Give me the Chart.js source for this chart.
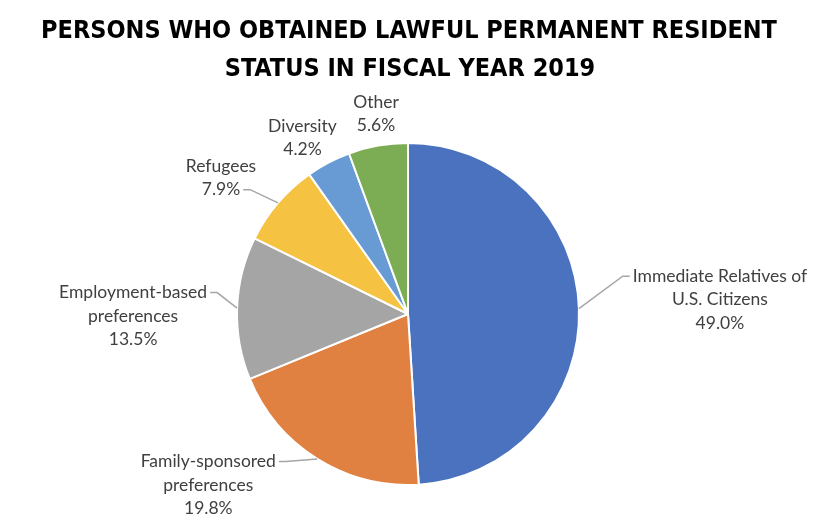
<!DOCTYPE html>
<html>
<head>
<meta charset="utf-8">
<script src="https://cdn.jsdelivr.net/npm/chart.js@4"></script>
<style>
  body { margin: 0; background: #fff; }
  #wrap { width: 828px; height: 530px; position: relative; }
</style>
</head>
<body>
<div id="wrap"><canvas id="chart"></canvas></div>
<script>
const titleLines = ['PERSONS WHO OBTAINED LAWFUL PERMANENT RESIDENT', 'STATUS IN FISCAL YEAR 2019'];
const categories = ['Immediate Relatives of U.S. Citizens', 'Family-sponsored preferences', 'Employment-based preferences', 'Refugees', 'Diversity', 'Other'];
const labelLines = [['Immediate Relatives of', 'U.S. Citizens'], ['Family-sponsored', 'preferences'], ['Employment-based', 'preferences'], ['Refugees'], ['Diversity'], ['Other']];
const shares = [49.0, 19.8, 13.5, 7.9, 4.2, 5.6];
const sliceColors = ['#4A72BE', '#E08142', '#A5A5A5', '#F5C242', '#689BD3', '#7CAC53'];

// label block offset from the slice edge, and which text line the leader goes to
const labelLayout = [
  { dx: 141, dy: -9, line: 0 },
  { dx: -109, dy: 26, line: 0 },
  { dx: -104, dy: 8, line: 0 },
  { dx: -57, dy: -25, line: 1 },
  { dx: -26, dy: -25, line: null },
  { dx: -2, dy: -32, line: null }
];

const labelFont = '17.5px Lato, "Open Sans", sans-serif';
const titleFont = 'bold 25px "Liberation Sans Narrow", "DejaVu Sans Condensed", sans-serif';

const pieLabels = {
  id: 'pieLabels',
  afterDatasetsDraw(chart) {
    const ctx = chart.ctx;
    const meta = chart.getDatasetMeta(0);
    ctx.save();

    // title
    ctx.fillStyle = '#000';
    ctx.font = titleFont;
    ctx.textAlign = 'center';
    ctx.textBaseline = 'middle';
    ctx.fillText(titleLines[0], 409, 31);
    ctx.fillText(titleLines[1], 410, 69);

    ctx.font = labelFont;
    const lh = 23.5;
    meta.data.forEach((arc, i) => {
      const mid = (arc.startAngle + arc.endAngle) / 2;
      const ex = arc.x + Math.cos(mid) * arc.outerRadius;
      const ey = arc.y + Math.sin(mid) * arc.outerRadius;
      const lay = labelLayout[i];
      const lines = labelLines[i].concat(shares[i].toFixed(1) + '%');
      const cx = ex + lay.dx, cy = ey + lay.dy;
      const top = cy - lh * (lines.length - 1) / 2;

      ctx.fillStyle = '#404040';
      lines.forEach((t, k) => ctx.fillText(t, cx, top + k * lh));

      if (lay.line !== null) {
        const ly = top + lay.line * lh;
        const w = ctx.measureText(lines[lay.line]).width;
        const side = ex > cx ? 1 : -1;
        const tx = cx + side * (w / 2 + 3);
        ctx.strokeStyle = '#A6A6A6';
        ctx.lineWidth = 1.5;
        ctx.beginPath();
        ctx.moveTo(tx, ly);
        ctx.lineTo(tx + side * 7, ly);
        ctx.lineTo(ex, ey);
        ctx.stroke();
      }
    });
    ctx.restore();
  }
};

new Chart(document.getElementById('chart'), {
  type: 'pie',
  data: {
    labels: categories,
    datasets: [{
      data: shares,
      backgroundColor: sliceColors,
      borderColor: '#fff',
      borderWidth: 2
    }]
  },
  options: {
    responsive: true,
    maintainAspectRatio: false,
    animation: false,
    layout: { padding: { top: 142, bottom: 44, left: 236, right: 248 } },
    plugins: {
      legend: { display: false },
      tooltip: { enabled: false },
      title: { display: false }
    }
  },
  plugins: [pieLabels]
});
</script>
</body>
</html>
